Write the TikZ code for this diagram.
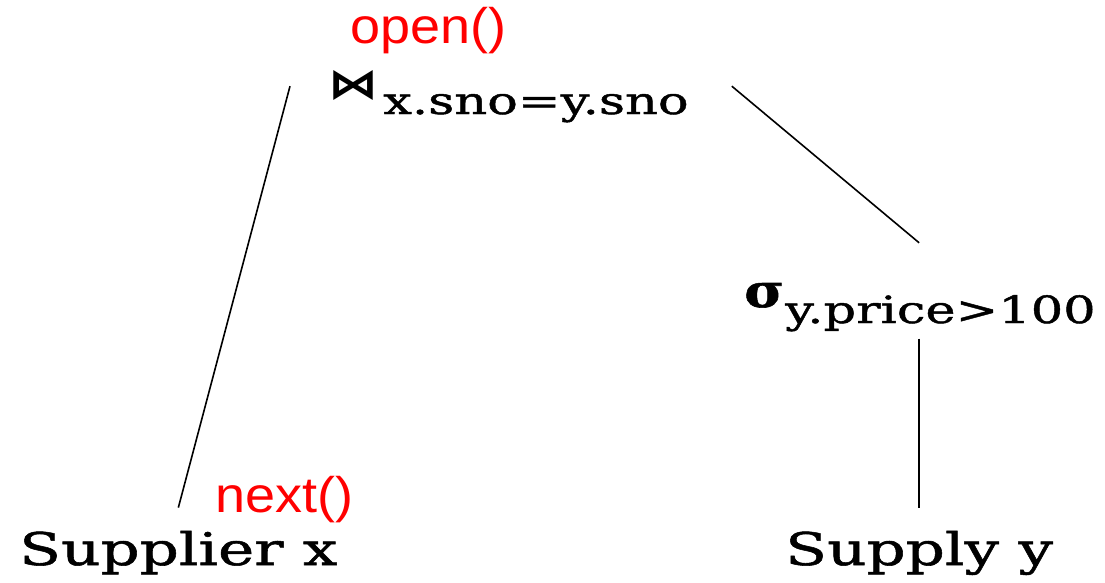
\documentclass[tikz,border=0pt]{standalone}
\usepackage{fontspec}
\usepackage{graphicx}
\setmainfont{DejaVu Serif}[FakeStretch=1.36,FakeBold=1.2]
\newfontfamily\callfont{Liberation Sans}[FakeStretch=1.08]
\newfontfamily\bowfont{DejaVu Sans Bold}
\usetikzlibrary{positioning}
\definecolor{callred}{HTML}{FF0000}
\newcommand{\opsub}[1]{\raisebox{-16pt}{\fontsize{37.5}{39}\selectfont #1}}

\begin{document}
\begin{tikzpicture}[x=1pt,y=-1pt,
  rel/.style={inner sep=0pt,anchor=base west,font=\fontsize{45}{47}\selectfont},
  call/.style={inner sep=0pt,anchor=base west,text=callred,font=\callfont\fontsize{50}{52}\selectfont},
  op/.style={inner sep=0pt,anchor=base west},
  edge/.style={line width=1.6pt}]
\useasboundingbox (0,0) rectangle (1105,582);
% operators
\node[op] (join) at (328,98) {\resizebox{50pt}{28pt}{\bowfont ⋈}\kern5pt\opsub{x.sno=y.sno}};
\node[op] (sel) at (744,307) {\resizebox{40pt}{24pt}{\bfseries σ}\kern1pt\opsub{y.price>100}};
% base relations
\node[rel] (supx) at (19,565) {Supplier x};
\node[rel] (supy) at (785,565) {Supply y};
% iterator calls
\node[call] (open) at (350,43) {open()};
\node[call] (next) at (215,512) {next()};
% edges
\coordinate (supytop) at ([yshift=23pt]supy.north);
\coordinate (seltop) at ([yshift=40pt]sel.north);
\coordinate (selbot) at ([yshift=-7pt]sel.south);
\draw[edge] ([shift={(-38pt,10pt)}]join.west) -- ([yshift=23pt]supx.north);
\draw[edge] ([shift={(43pt,10pt)}]join.east) -- (seltop -| supytop);
\draw[edge] (selbot -| supytop) -- (supytop);
\end{tikzpicture}
\end{document}
